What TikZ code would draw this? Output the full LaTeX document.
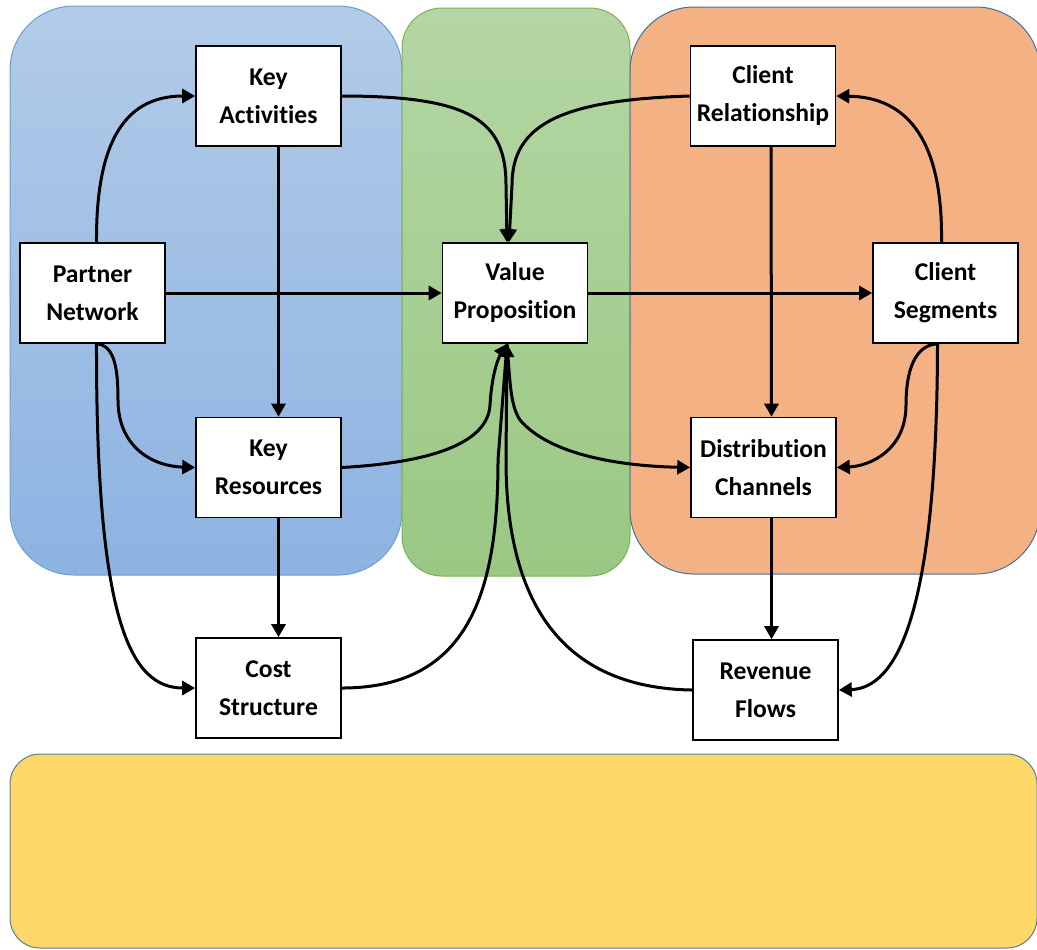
\documentclass[tikz,border=0pt]{standalone}
\usepackage{fontspec}
\setmainfont{Carlito}[Ligatures={NoCommon}]
\usetikzlibrary{arrows.meta}
\definecolor{bluetop}{HTML}{B2CBE8}
\definecolor{bluebot}{HTML}{8DB3E2}
\definecolor{blueline}{HTML}{6A9FD6}
\definecolor{greentop}{HTML}{B4D6A4}
\definecolor{greenbot}{HTML}{9AC883}
\definecolor{greenline}{HTML}{7CB356}
\definecolor{orangefill}{HTML}{F4B183}
\definecolor{orangeline}{HTML}{41719C}
\definecolor{yellowfill}{HTML}{FDD768}
\definecolor{yellowline}{HTML}{5A7A9C}
\tikzset{
  box/.style={draw=black, line width=0.8pt, fill=white, minimum width=72.5pt, minimum height=50pt,
    inner sep=0pt, align=center, font=\fontsize{12.8}{19}\selectfont\bfseries},
  conn/.style={line width=1.5pt, draw=black},
  arr/.style={conn, -{Triangle[length=6.5pt,width=7pt]}},
  region/.style={line width=0.5pt}
}
\begin{document}
\begin{tikzpicture}[x=0.5pt,y=-0.5pt]
\clip (0,0) rectangle (1037,949);
\fill[white] (0,0) rectangle (1037,949);
% regions
\shade[region, top color=bluetop, bottom color=bluebot, draw=blueline, rounded corners=32pt]
  (10,6) rectangle (402,575);
\shade[region, top color=greentop, bottom color=greenbot, draw=greenline, rounded corners=20pt]
  (402,8) rectangle (630,576);
\filldraw[region, fill=orangefill, draw=orangeline, rounded corners=32pt]
  (630,7) rectangle (1040,574);
\filldraw[region, fill=yellowfill, draw=yellowline, rounded corners=15pt]
  (10,754) rectangle (1037,948);
% nodes
\node[box] (ka)  at (268.5,96)  {Key\\Activities};
\node[box] (pn)  at (92.5,293)  {Partner\\Network};
\node[box] (vp)  at (515,293)   {Value\\Proposition};
\node[box] (cr)  at (763,96)    {Client\\Relationship};
\node[box] (cs)  at (945.5,293) {Client\\Segments};
\node[box] (kr)  at (268.5,467.5) {Key\\Resources};
\node[box] (cst) at (268.5,688) {Cost\\Structure};
\node[box] (dc)  at (763.5,467.5) {Distribution\\Channels};
\node[box] (rf)  at (765.5,690) {Revenue\\Flows};
% straight connectors
\draw[arr] (pn.east) -- (vp.west);
\draw[arr] (vp.east) -- (cs.west);
\draw[arr] ([xshift=5pt]ka.south) -- ([xshift=5pt]kr.north);
\draw[arr] ([xshift=4pt]cr.south) -- ([xshift=4pt]dc.north);
\draw[arr] ([xshift=5pt]kr.south) -- ([xshift=5pt]cst.north);
\draw[arr] ([xshift=4pt]dc.south) -- ([xshift=3pt]rf.north);
% curved connectors
\draw[arr] ([xshift=2pt]pn.north) .. controls (96,150) and (120,96) .. (ka.west);
\draw[arr] (ka.east) .. controls (470,96) and (506,120) .. (506,185) -- ([xshift=-4pt]vp.north);
\draw[arr] (cr.west) .. controls (560,100) and (512,125) .. (512,185) -- ([xshift=-3pt]vp.north);
\draw[arr] ([xshift=-2pt]cs.north) .. controls (943,130) and (900,97) .. (cr.east);
\draw[arr] ([xshift=2pt]pn.south) .. controls (115,345) and (118,370) .. (118,400)
   .. controls (118,445) and (150,466) .. (kr.west);
\draw[arr] ([xshift=2pt]pn.south) .. controls (96,620) and (130,688) .. (cst.west);
\draw[arr] ([xshift=-4pt]cs.south) .. controls (915,345) and (906,370) .. (906,405)
   .. controls (906,450) and (870,466) .. (dc.east);
\draw[arr] ([xshift=-4pt]cs.south) .. controls (937,620) and (895,688) .. (rf.east);
\draw[arr] (kr.east) .. controls (440,462) and (488,440) .. (490,405)
   .. controls (492,370) and (500,355) .. ([xshift=-4pt]vp.south);
\draw[arr] (cst.east) .. controls (470,688) and (498,590) .. (498,460) -- ([xshift=-4pt]vp.south);
\draw[arr] (rf.west) .. controls (560,688) and (506,600) .. (506,460) -- ([xshift=-4pt]vp.south);
\draw[arr] ([xshift=-4pt]vp.south) .. controls (510,380) and (510,405) .. (520,420)
   .. controls (550,455) and (620,466) .. (dc.west);
\end{tikzpicture}
\end{document}
